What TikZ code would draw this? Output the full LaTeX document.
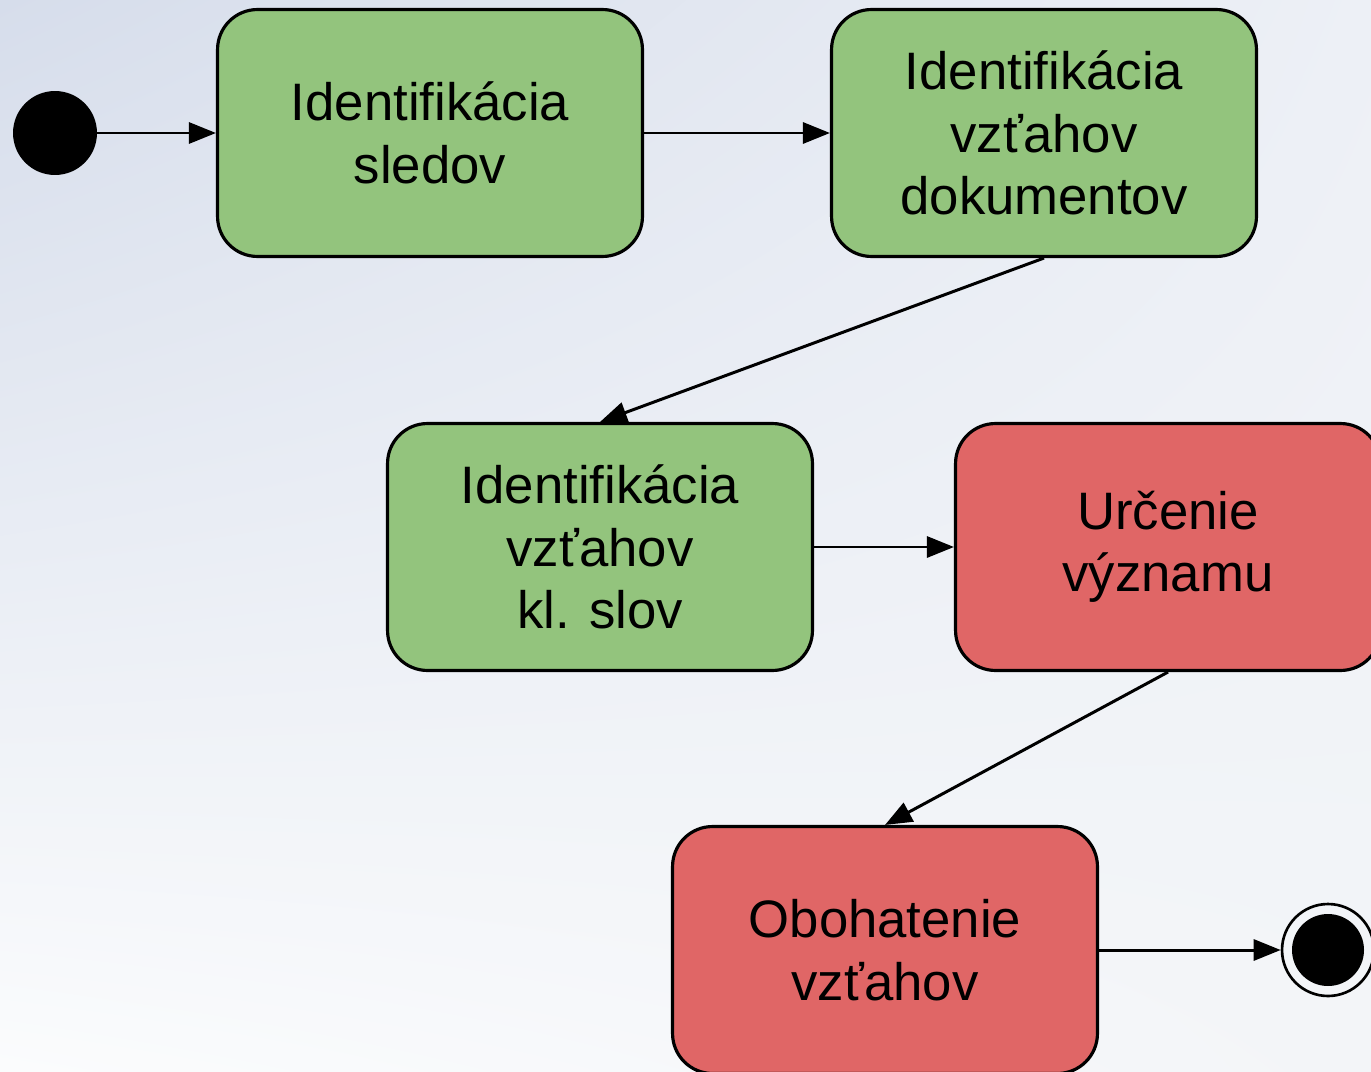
\documentclass[tikz,border=0pt]{standalone}
\usepackage{fontspec}
\setmainfont{Liberation Sans}
\usepackage{tikz}
\usetikzlibrary{arrows.meta, positioning, shapes.geometric, shadings}
\definecolor{stepgreen}{HTML}{93C47D}
\definecolor{stepred}{HTML}{E06666}
\definecolor{bgtl}{HTML}{D6DDEB}
\definecolor{bgtr}{HTML}{EDF0F6}
\definecolor{bgbl}{HTML}{FBFCFD}
\definecolor{bgbr}{HTML}{F3F5F8}

\begin{document}
\begin{tikzpicture}[
    x=0.02cm, y=-0.02cm,
    donebox/.style={rectangle, rounded corners=0.8cm, draw=black, line width=1.8pt, fill=stepgreen, minimum width=8.5cm, minimum height=4.94cm, align=center, font=\fontsize{30}{35.6}\selectfont},
    todobox/.style={donebox, fill=stepred},
    startdot/.style={circle, fill=black, minimum size=1.68cm, inner sep=0pt},
    enddot/.style={circle, draw=black, line width=1.5pt, minimum size=1.84cm, inner sep=0pt, path picture={\fill[black] (path picture bounding box.center) circle (0.72cm);}},
    arr/.style={-{Triangle[length=0.54cm, width=0.42cm]}, line width=1.7pt, color=black},
]
    % background
    \useasboundingbox (0,0) rectangle (1371,1071);
    \shade[upper left=bgtl, upper right=bgtr, lower left=bgbl, lower right=bgbr] (0,0) rectangle (1371,1071);

    \node[startdot] (start) at (55,133) {};
    \node[donebox] (sledy) at (430,133) {Identifikácia\\sledov};
    \node[donebox] (dokumenty) at (1044,133) {Identifikácia\\vzťahov\\dokumentov};
    \node[donebox] (slova) at (600,547) {Identifikácia\\vzťahov\\kl. slov};
    \node[todobox] (vyznam) at (1168,547) {Určenie\\významu};
    \node[todobox] (obohatenie) at (885,950) {Obohatenie\\vzťahov};
    \node[enddot] (end) at (1328,950) {};

    \draw[arr] (start) -- (sledy);
    \draw[arr] (sledy) -- (dokumenty);
    \draw[arr] (dokumenty.south) -- (slova.north);
    \draw[arr] (slova) -- (vyznam);
    \draw[arr] (vyznam.south) -- (obohatenie.north);
    \draw[arr] (obohatenie) -- (end);
\end{tikzpicture}
\end{document}
